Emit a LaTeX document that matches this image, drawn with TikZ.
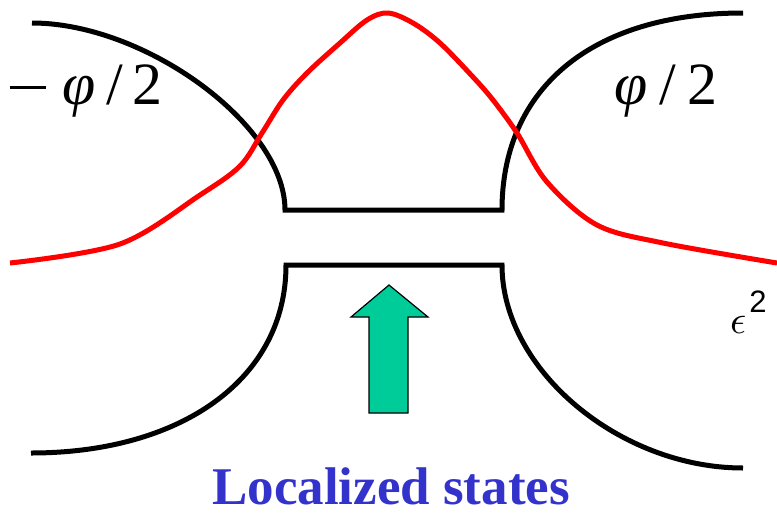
\documentclass[tikz,border=0pt]{standalone}
\usepackage{fontspec}
\setmainfont{Liberation Serif}
\newfontfamily\labelsans{Liberation Sans}
\usepackage{tikz}
\usetikzlibrary{positioning}
\definecolor{statesblue}{RGB}{51,51,204}
\definecolor{arrowgreen}{RGB}{0,204,153}

\begin{document}
\begin{tikzpicture}[
        x=1pt, y=-1pt,
        band/.style={line width=5pt, black},
        wave/.style={line width=5pt, red},
        phase/.style={anchor=base west, inner sep=0pt, font=\fontsize{60}{60}\selectfont}
    ]
        \useasboundingbox (0,0) rectangle (777,512);

        % Bande superiori
        \draw[band] (32,23) .. controls (145,23) and (285,125) .. (285,210) -- (502,210)
            .. controls (502,90) and (590,13) .. (743,13);

        % Bande inferiori
        \draw[band] (31,453) .. controls (180,453) and (286,380) .. (286,265) -- (502,265)
            .. controls (502,370) and (620,468) .. (743,468);

        % Funzione d'onda
        \draw[wave] plot[smooth, tension=0.55] coordinates {(10,263) (120,244) (200,195) (240,166)
            (262,133) (283,100) (307,73) (340,43) (367,20) (388,13) (413,23) (440,43) (473,77)
            (493,100) (517,133) (547,182) (597,225) (663,243) (777,263)};

        % Freccia
        \draw[fill=arrowgreen, line width=1.2pt] (369,413) -- (369,317) -- (351,317) -- (389,285)
            -- (428,317) -- (408,317) -- (408,413) -- cycle;

        % Etichette
        \node[phase] (phileft) at (10,104)
            {\rule[15pt]{36pt}{2.6pt}\hspace{16pt}\textit{φ}\hspace{11pt}/\hspace{9pt}2};
        \node[phase] (phiright) at (614,104) {\textit{φ}\hspace{12pt}/\hspace{11pt}2};
        \node[anchor=base west, inner sep=0pt] (eps) at (730,333)
            {\scalebox{4.0}{$\epsilon$}\hspace{3pt}\raisebox{21pt}{\labelsans\fontsize{31}{31}\selectfont 2}};
        \node[anchor=base, inner sep=0pt, text=statesblue, font=\fontsize{53}{53}\selectfont\bfseries]
            (title) at (391,504) {Localized states};
    \end{tikzpicture}
\end{document}
